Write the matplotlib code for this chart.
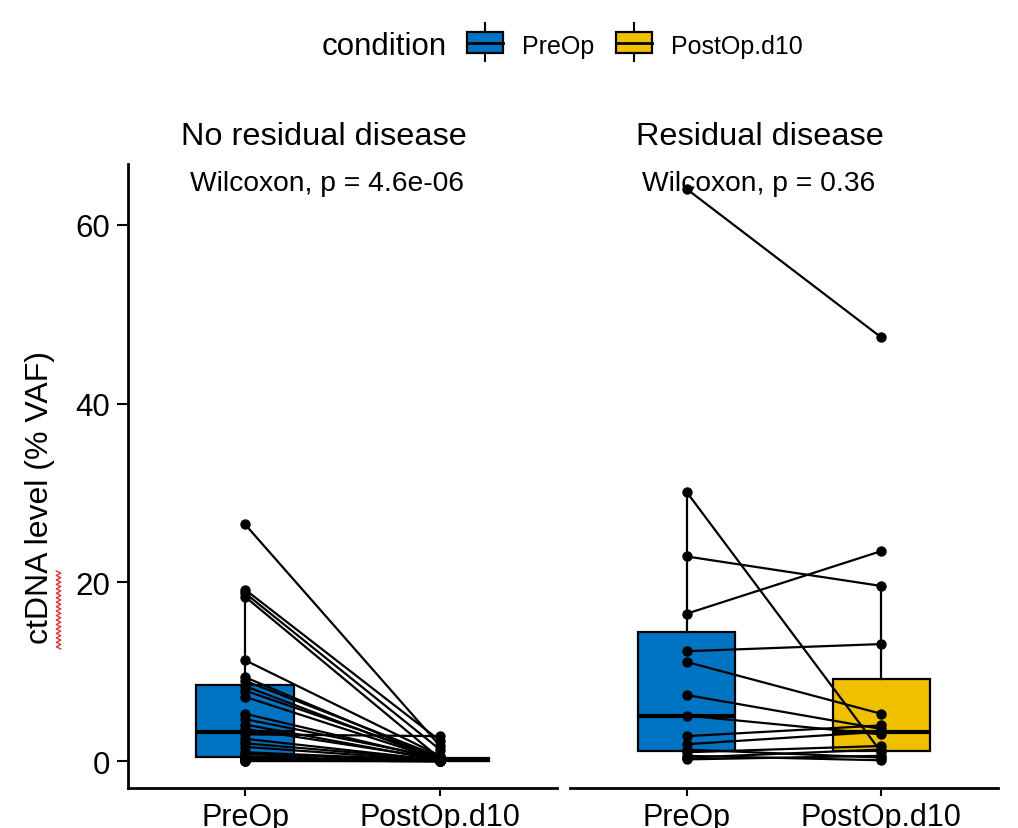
import numpy as np
import matplotlib
matplotlib.use("Agg")
import matplotlib.pyplot as plt
from matplotlib.patches import Rectangle

plt.rcParams['font.family'] = ['Liberation Sans', 'DejaVu Sans']

# data (% VAF), one entry per patient, PreOp paired with PostOp.d10
conditions = ['PreOp', 'PostOp.d10']
colors = ['#0073C2', '#EFC000']

no_res_pre = [26.5, 19.2, 18.8, 18.4, 11.3, 9.4, 9.0, 8.4, 7.9, 7.2, 5.3, 4.7, 4.1, 3.6,
              3.0, 2.5, 2.0, 1.6, 1.0, 0.8, 0.5, 0.4, 0.3, 0.2, 0.1, 0.05, 0.0, 0.0]
no_res_post = [1.7, 2.3, 1.3, 0.3, 0.6, 0.2, 0.5, 0.1, 0.4, 0.15, 0.2, 0.35, 0.1, 0.25,
               2.8, 0.1, 0.15, 0.05, 0.08, 0.05, 0.0, 0.03, 0.02, 0.0, 0.0, 0.0, 0.0, 0.0]

res_pre = [64.0, 30.1, 22.9, 16.5, 12.3, 11.1, 7.4, 5.1, 2.8, 1.9, 1.3, 1.0, 0.6, 0.4, 0.2]
res_post = [47.4, 1.0, 19.6, 23.5, 13.1, 5.3, 3.6, 3.0, 4.0, 3.3, 0.4, 1.7, 0.1, 1.3, 0.6]

panels = ['No residual disease', 'Residual disease']
pvals = ['Wilcoxon, p = 4.6e-06', 'Wilcoxon, p = 0.36']
panel_data = [(no_res_pre, no_res_post), (res_pre, res_post)]

fig = plt.figure(figsize=(10.18, 8.29), dpi=100)
W, H = 1018, 829
ax_l = fig.add_axes([128 / W, 1 - 789 / H, 429 / W, 624 / H])
ax_r = fig.add_axes([570 / W, 1 - 789 / H, 428 / W, 624 / H], sharey=ax_l)

label_x = [0.72, 0.77]
title_x = [0.456, 0.443]

for i, ax in enumerate([ax_l, ax_r]):
    pre, post = panel_data[i]
    bp = ax.boxplot([pre, post], positions=[1, 2], widths=0.5, patch_artist=True,
                    showfliers=False, showcaps=False, zorder=1,
                    medianprops=dict(color='black', lw=3),
                    whiskerprops=dict(color='black', lw=1.6),
                    boxprops=dict(edgecolor='black', lw=1.6))
    for patch, c in zip(bp['boxes'], colors):
        patch.set_facecolor(c)
    for a, b in zip(pre, post):
        ax.plot([1, 2], [a, b], color='black', lw=1.6, zorder=3)
    ax.scatter([1] * len(pre), pre, s=42, color='black', zorder=4)
    ax.scatter([2] * len(post), post, s=42, color='black', zorder=4)

    ax.set_xlim(0.4, 2.6)
    ax.set_ylim(-3.0, 66.8)
    ax.set_xticks([1, 2])
    ax.set_xticklabels(conditions, fontsize=22, color='black')
    ax.tick_params(axis='x', length=6, width=1.5, pad=4)
    for s in ['top', 'right']:
        ax.spines[s].set_visible(False)
    ax.spines['bottom'].set_linewidth(2)
    ax.spines['left'].set_linewidth(2)
    ax.text(label_x[i], 64.7, pvals[i], fontsize=20.3, ha='left', va='center')
    ax.text(title_x[i], 1.045, panels[i], transform=ax.transAxes,
            fontsize=23.4, ha='center', va='center')

ax_l.set_yticks([0, 20, 40, 60])
ax_l.tick_params(axis='y', labelsize=22.5, length=8, width=1.5, pad=5)
ax_r.spines['left'].set_visible(False)
ax_r.tick_params(axis='y', left=False, labelleft=False)

# y label placed by hand, plus the spell-check squiggle under "ctDNA"
fig.text(40 / W, 1 - 497 / H, 'ctDNA level (% VAF)', fontsize=23, rotation=90,
         ha='center', va='center')
sq = fig.add_axes([0, 0, 1, 1], facecolor='none')
sq.set_xlim(0, W)
sq.set_ylim(H, 0)
sq.axis('off')
yy = np.linspace(572, 650, 36)
xx = 58.5 + 2.2 * np.where(np.arange(36) % 2 == 0, -1, 1)
sq.plot(xx, yy, color='#e03030', lw=1)

# legend drawn by hand
sq.text(322, 47, 'condition', fontsize=22.5, ha='left', va='center')
for x0, c, lab in [(467, colors[0], 'PreOp'), (616, colors[1], 'PostOp.d10')]:
    sq.add_patch(Rectangle((x0, 33), 36, 21, facecolor=c, edgecolor='black', lw=1.6))
    sq.plot([x0, x0 + 36], [43.5, 43.5], color='black', lw=2)
    sq.plot([x0 + 18, x0 + 18], [24, 33], color='black', lw=1.5)
    sq.plot([x0 + 18, x0 + 18], [54, 62], color='black', lw=1.5)
    sq.text(x0 + 55, 47, lab, fontsize=18, ha='left', va='center')

fig.savefig('out.png', dpi=100)
